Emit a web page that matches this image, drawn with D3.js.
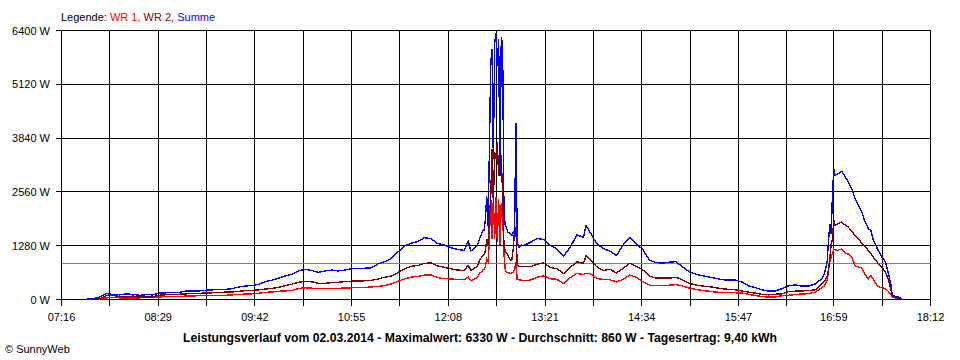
<!DOCTYPE html>
<html><head><meta charset="utf-8">
<script src="https://cdn.jsdelivr.net/npm/d3@7"></script>
<style>
html,body{margin:0;padding:0;background:#fff;}
svg text{font-family:"Liberation Sans",Arial,sans-serif;}
</style></head>
<body><svg id="c" width="960" height="360"></svg>
<script>
// ---- data ----
const times = ["07:35","07:40","07:45","07:50","07:55","08:00","08:05","08:10","08:15","08:20","08:25","08:30","08:35","08:40","08:45","08:50","08:55","09:00","09:05","09:10","09:15","09:20","09:25","09:30","09:35","09:40","09:45","09:50","09:55","10:00","10:05","10:10","10:15","10:20","10:25","10:30","10:35","10:40","10:45","10:50","10:55","11:00","11:05","11:10","11:15","11:20","11:25","11:30","11:35","11:40","11:45","11:50","11:55","12:00","12:05","12:10","12:15","12:20","12:23","12:25","12:30","12:32","12:33","12:34","12:35","12:36","12:37","12:38","12:39","12:40","12:41","12:42","12:43","12:44","12:45","12:46","12:47","12:48","12:49","12:50","12:51","12:52","12:53","12:54","12:55","12:56","12:57","12:58","12:59","13:00","13:01","13:02","13:03","13:04","13:05","13:10","13:15","13:20","13:25","13:30","13:35","13:40","13:45","13:50","13:52","13:55","14:00","14:05","14:10","14:15","14:20","14:25","14:30","14:35","14:40","14:45","14:50","14:55","15:00","15:05","15:10","15:15","15:20","15:25","15:30","15:35","15:40","15:45","15:50","15:55","16:00","16:05","16:10","16:15","16:20","16:25","16:30","16:35","16:40","16:45","16:50","16:52","16:54","16:55","16:56","16:57","16:58","16:59","17:00","17:02","17:05","17:08","17:10","17:13","17:15","17:18","17:20","17:22","17:25","17:27","17:29","17:32","17:35","17:38","17:40","17:42","17:43","17:45","17:48","17:50","17:51"];
const wr1 = [0,0,10,40,45,40,30,35,40,45,50,60,70,70,75,80,85,90,95,95,100,100,110,120,130,135,150,170,180,195,205,215,260,280,270,255,260,265,265,275,278,280,285,300,310,330,370,430,490,530,550,580,585,520,495,490,475,470,530,450,520,640,650,700,720,780,960,900,1400,2470,1450,2400,1450,2430,1360,2400,1300,2300,2080,1100,700,650,640,630,620,640,650,700,880,480,470,460,460,455,455,460,530,560,495,480,380,520,620,595,620,620,500,480,470,420,480,580,530,420,340,335,335,340,355,320,270,240,215,195,175,170,167,160,150,120,95,70,55,60,90,100,120,130,140,175,280,330,450,700,900,1000,1100,1200,1180,1170,1200,1100,1080,980,800,770,760,620,490,570,470,320,280,260,200,135,60,40,20,10,0];
const wr2 = [0,0,20,90,95,70,60,80,55,60,65,100,115,120,125,135,140,145,155,160,170,175,180,195,210,215,230,250,265,290,330,365,410,435,420,385,385,400,410,425,435,440,445,455,490,530,560,640,730,790,810,860,870,800,765,730,700,690,810,690,790,960,1000,1050,1080,1150,1440,1300,2000,2400,3580,2300,3500,3350,3740,2950,3700,3300,2550,1290,1150,1100,1050,1000,930,950,1200,1640,1700,850,790,780,790,790,780,780,840,870,760,730,620,760,900,860,1040,950,780,690,720,630,740,860,790,700,560,507,510,510,530,460,380,345,320,305,280,255,240,230,200,174,150,120,111,125,135,190,198,205,210,230,380,440,550,700,1000,1300,1450,1880,1760,1800,1840,1760,1720,1600,1530,1420,1350,1280,1170,1100,1000,880,780,640,500,250,90,50,30,10,0];
const summe = [20,20,60,140,120,110,135,120,100,115,110,150,160,160,170,200,200,205,220,230,235,240,260,300,320,335,360,430,460,510,560,600,680,720,690,645,680,700,680,700,730,735,745,755,850,900,975,1130,1270,1340,1380,1470,1450,1330,1300,1230,1190,1170,1390,1150,1300,1480,1550,1640,1650,1900,2470,1760,3500,5600,5960,3350,6100,6330,5560,6200,2950,6240,6040,2080,1760,1700,1600,1600,1560,1520,1600,1560,4210,1360,1250,1245,1300,1290,1285,1360,1450,1430,1290,1200,1030,1240,1540,1480,1760,1600,1330,1210,1150,1050,1300,1470,1330,1180,930,880,865,890,900,770,660,600,565,535,500,470,465,460,415,320,280,230,200,205,260,330,345,320,320,370,500,620,900,1400,1800,1560,2500,3110,2950,2990,3050,2900,2790,2600,2400,2220,2100,1900,1690,1640,1400,1200,1020,900,640,380,120,75,60,20,0];
const xTickLabels = ["07:16","08:29","09:42","10:55","12:08","13:21","14:34","15:47","16:59","18:12"];
const yTicks = [0,1280,2560,3840,5120,6400];
const average = 860;
const seriesNames = ["WR 1","WR 2","Summe"];
const seriesColors = ["#ff0000","#800000","#0000ff"];
const titleText = "Leistungsverlauf vom 02.03.2014 - Maximalwert: 6330 W - Durchschnitt: 860 W - Tagesertrag: 9,40 kWh";

// ---- helpers ----
const toMin = s => { const [h,m] = s.split(":").map(Number); return h*60+m; };
const tickMins = xTickLabels.map(toMin);

const svg = d3.select("#c");
svg.append("rect").attr("width",960).attr("height",360).attr("fill","#fff");

const x = d3.scaleLinear().domain([tickMins[0], tickMins[tickMins.length-1]]).range([61.5, 930.5]);
const y = d3.scaleLinear().domain([0, 6400]).range([299.5, 30.5]);

const gridMins = [];
tickMins.forEach((m,i)=>{ gridMins.push(m); if(i<tickMins.length-1) gridMins.push((m+tickMins[i+1])/2); });

const g = svg.append("g");
g.selectAll("line.v").data(gridMins).join("line")
  .attr("x1", d=>Math.round(x(d)-0.5)+0.5).attr("x2", d=>Math.round(x(d)-0.5)+0.5)
  .attr("y1", y(6400)).attr("y2", y(0)+6)
  .attr("stroke","#000").attr("stroke-width",1).attr("shape-rendering","crispEdges");
g.selectAll("line.h").data(yTicks).join("line")
  .attr("x1", x(tickMins[0])-6).attr("x2", x(tickMins[tickMins.length-1]))
  .attr("y1", d=>Math.round(y(d)-0.5)+0.5).attr("y2", d=>Math.round(y(d)-0.5)+0.5)
  .attr("stroke","#000").attr("stroke-width",1).attr("shape-rendering","crispEdges");

g.selectAll("text.yl").data(yTicks).join("text")
  .attr("x", 50).attr("y", d=>y(d)+4).attr("text-anchor","end")
  .attr("font-size","11px").attr("fill","#000").text(d=>d+" W");
g.selectAll("text.xl").data(xTickLabels).join("text")
  .attr("x", d=>x(toMin(d))).attr("y", 321).attr("text-anchor","middle")
  .attr("font-size","11px").attr("fill","#000").text(d=>d);

g.append("line").attr("x1",x(tickMins[0])).attr("x2",x(tickMins[tickMins.length-1]))
  .attr("y1",Math.round(y(average)-0.5)+0.5).attr("y2",Math.round(y(average)-0.5)+0.5)
  .attr("stroke","#808080").attr("stroke-width",1).attr("shape-rendering","crispEdges");

const seriesData = [wr1, wr2, summe];
const line = d3.line().x((d,i)=>x(toMin(times[i]))).y(d=>y(d));
seriesData.forEach((vals,k)=>{
  g.append("path").datum(vals).attr("d", line)
    .attr("fill","none").attr("stroke",seriesColors[k]).attr("stroke-width",1.4)
    .attr("shape-rendering","crispEdges");
});

const leg = svg.append("text").attr("x",61).attr("y",21).attr("font-size","11px");
leg.append("tspan").attr("fill","#000").text("Legende: ");
seriesNames.forEach((n,i)=>{
  leg.append("tspan").attr("fill",seriesColors[i]).text(n + (i<seriesNames.length-1?", ":""));
});

const t = svg.append("text").attr("x",480).attr("y",342).attr("text-anchor","middle")
  .attr("font-size","12px").attr("font-weight","bold").attr("fill","#000").text(titleText);
const w = t.node().getComputedTextLength();
if (w > 0) t.attr("font-size", (12*594/w).toFixed(2)+"px");

svg.append("text").attr("x",5).attr("y",353).attr("font-size","11px").attr("fill","#000").text("\u00A9 SunnyWeb");
</script></body></html>
